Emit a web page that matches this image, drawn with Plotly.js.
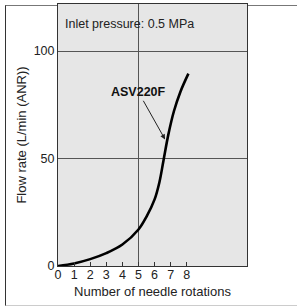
<!DOCTYPE html>
<html>
<head>
<meta charset="utf-8">
<script src="https://cdn.plot.ly/plotly-3.0.1.min.js"></script>
<style>
  html, body { margin: 0; padding: 0; background: #fff; }
  #wrap { position: relative; width: 297px; height: 308px; overflow: hidden; }
  #frame { position: absolute; left: 5px; top: 5px; width: 320px; height: 299px;
           border-left: 1px solid #333; border-top: 1px solid #777; border-bottom: 1px solid #ccc; }
  #chart { position: absolute; left: 0; top: 0; width: 297px; height: 308px; }
</style>
</head>
<body>
<div id="wrap">
  <div id="frame"></div>
  <div id="chart"></div>
</div>
<script>
// Data
const rotations = [0, 1, 2, 3, 4, 5, 5.5, 6, 6.3, 6.55, 6.85, 7.2, 7.6, 8.1];
const flowRate  = [0, 1.2, 3.2, 6, 10, 17, 23, 31, 39, 49, 61, 72, 81, 89.5];
const xTickVals = [0, 1, 2, 3, 4, 5, 6, 7, 8];
const xGridVals = [5];
const yTickVals = [0, 50, 100];
const seriesName = "ASV220F";
const noteText = "Inlet pressure: 0.5 MPa";
const arrowPoint = {x: 6.68, y: 58.5};

const font = "Liberation Sans, Arial, sans-serif";
const xRange = [0, 11.74];
const yRange = [0, 121.9];

const traces = [
  {
    x: rotations, y: flowRate, type: "scatter", mode: "lines",
    line: {color: "#000", width: 2.6, shape: "spline", smoothing: 1.0},
    hoverinfo: "skip", showlegend: false
  },
  {
    x: [xRange[0]], y: [yRange[0]], xaxis: "x2", type: "scatter", mode: "markers",
    marker: {opacity: 0}, hoverinfo: "skip", showlegend: false
  }
];

const layout = {
  width: 297, height: 308,
  margin: {l: 58, r: 50, t: 4, b: 42},
  paper_bgcolor: "rgba(0,0,0,0)",
  plot_bgcolor: "#e6e6e6",
  font: {family: font, size: 12, color: "#222"},
  showlegend: false,
  xaxis: {
    range: xRange, tickvals: xTickVals, ticktext: xTickVals.map(String),
    ticks: "inside", ticklen: 4, tickcolor: "#333", tickwidth: 1,
    ticklabelstandoff: -3,
    showgrid: false, zeroline: false,
    showline: true, linecolor: "#333", linewidth: 1, mirror: true,
    tickfont: {size: 12.5, family: font, color: "#222"},
    title: {text: "Number of needle rotations", font: {size: 13, family: font, color: "#222"}, standoff: 5},
    fixedrange: true
  },
  xaxis2: {
    range: xRange, overlaying: "x", tickvals: xGridVals, showticklabels: false,
    ticks: "", showgrid: true, gridcolor: "#555", gridwidth: 1, zeroline: false,
    showline: false, fixedrange: true
  },
  yaxis: {
    range: yRange, tickvals: yTickVals, ticktext: yTickVals.map(String),
    ticks: "", showgrid: true, gridcolor: "#555", gridwidth: 1, zeroline: false,
    showline: true, linecolor: "#333", linewidth: 1, mirror: true,
    tickfont: {size: 12.5, family: font, color: "#222"},
    title: {text: "Flow rate (L/min (ANR))", font: {size: 13, family: font, color: "#222"}, standoff: 4},
    fixedrange: true
  },
  annotations: [
    {
      x: arrowPoint.x, y: arrowPoint.y, xref: "x", yref: "y",
      text: "<b>" + seriesName + "</b>", showarrow: true,
      ax: -27, ay: -48, arrowhead: 2, arrowsize: 1, arrowwidth: 1, arrowcolor: "#222",
      font: {size: 12.5, family: font, color: "#111"}, standoff: 1
    },
    {
      x: 0.026, y: 0.924, xref: "paper", yref: "paper",
      xanchor: "left", yanchor: "middle",
      text: noteText, showarrow: false,
      font: {size: 12.5, family: font, color: "#222"}
    }
  ]
};

Plotly.newPlot("chart", traces, layout, {displayModeBar: false, staticPlot: true});
</script>
</body>
</html>
